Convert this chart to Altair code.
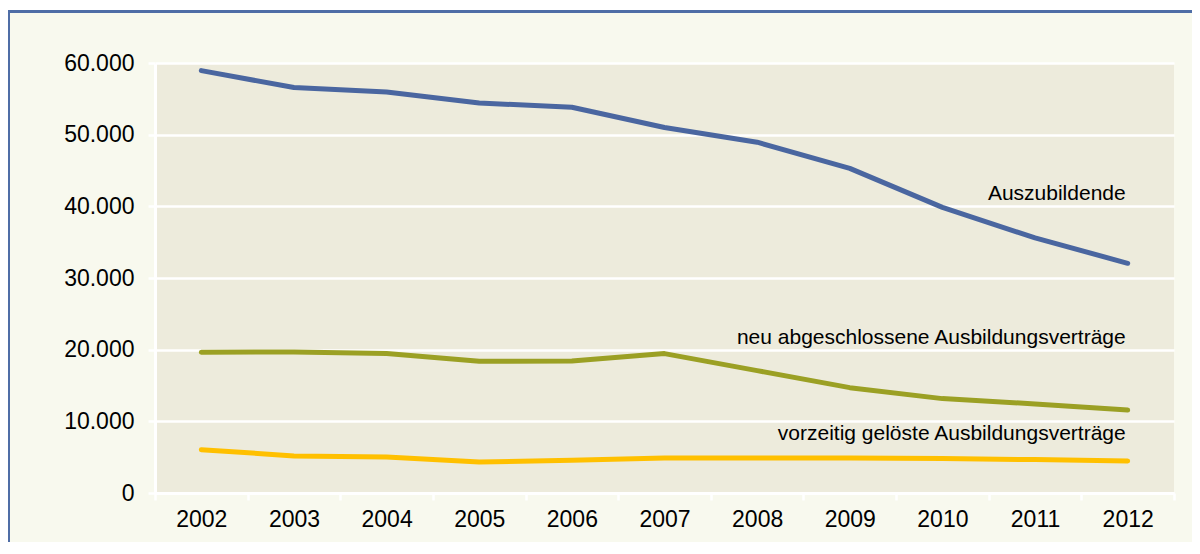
import altair as alt
import pandas as pd

years = ["2002", "2003", "2004", "2005", "2006", "2007", "2008", "2009", "2010", "2011", "2012"]
auszubildende = [58940, 56570, 55950, 54420, 53820, 51000, 48950, 45300, 39850, 35600, 32050]
neu_abgeschlossen = [19630, 19680, 19450, 18380, 18420, 19450, 17080, 14700, 13170, 12430, 11580]
vorzeitig_geloest = [6050, 5170, 5030, 4330, 4560, 4890, 4890, 4890, 4800, 4660, 4470]

series_names = [
    "Auszubildende",
    "neu abgeschlossene Ausbildungsverträge",
    "vorzeitig gelöste Ausbildungsverträge",
]
series_colors = ["#4A66A0", "#9BA024", "#FFC000"]
label_year = "2012"
label_values = [40900, 20800, 7450]
y_ticks = [0, 10000, 20000, 30000, 40000, 50000, 60000]

rows = []
for name, vals in zip(series_names, [auszubildende, neu_abgeschlossen, vorzeitig_geloest]):
    for yr, v in zip(years, vals):
        rows.append({"Jahr": yr, "Wert": v, "Reihe": name})
df = pd.DataFrame(rows)
labels = pd.DataFrame({"Jahr": [label_year] * 3, "Wert": label_values, "Text": series_names})

x_enc = alt.X(
    "Jahr:N",
    sort=years,
    bandPosition=0.5,
    scale=alt.Scale(type="band", domain=years, paddingInner=0, paddingOuter=0),
    axis=alt.Axis(title=None, labelAngle=0, tickBand="extent", labelPadding=8),
)
y_enc = alt.Y(
    "Wert:Q",
    scale=alt.Scale(domain=[0, 60000], nice=False),
    axis=alt.Axis(
        title=None,
        values=y_ticks,
        labelPadding=14,
        labelExpr="replace(format(datum.value, ','), ',', '.')",
    ),
)

dummy = pd.DataFrame({"a": [0]})
top_strip = alt.Chart(dummy).mark_rect(fill="white").encode(
    x=alt.value(-148), x2=alt.value(1100), y=alt.value(-56), y2=alt.value(-53)
)
frame_left = alt.Chart(dummy).mark_rule(color="#4F6DA6", strokeWidth=3).encode(
    x=alt.value(-146.5), y=alt.value(-53), y2=alt.value(600)
)
frame_top = alt.Chart(dummy).mark_rule(color="#4F6DA6", strokeWidth=3).encode(
    x=alt.value(-148), x2=alt.value(1200), y=alt.value(-51.5)
)

lines = alt.Chart(df).mark_line(strokeWidth=5, strokeCap="round", strokeJoin="round").encode(
    x=x_enc,
    y=y_enc,
    color=alt.Color("Reihe:N", scale=alt.Scale(domain=series_names, range=series_colors), legend=None),
    detail="Reihe:N",
)

texts = alt.Chart(labels).mark_text(
    align="right", baseline="alphabetic", dx=-2, font="Liberation Sans", fontSize=21, color="#000000"
).encode(x=x_enc, y=y_enc, text="Text:N")

chart = (
    alt.layer(top_strip, frame_left, frame_top, lines, texts)
    .properties(
        width=1019,
        height=430,
        autosize=alt.AutoSizeParams(type="none"),
        padding={"left": 147, "top": 55, "right": 18, "bottom": 49},
        background="#F8F9EE",
    )
    .configure_view(fill="#EDEBDC", strokeWidth=0)
    .configure_axis(
        domainColor="white",
        domainWidth=3,
        gridColor="white",
        gridWidth=2.5,
        gridOpacity=1,
        tickColor="white",
        tickWidth=2.5,
        tickSize=7,
        labelFont="Liberation Sans",
        labelFontSize=23,
        labelColor="#000000",
    )
)

chart.save("out.html", embed_options={"renderer": "svg", "actions": False})
